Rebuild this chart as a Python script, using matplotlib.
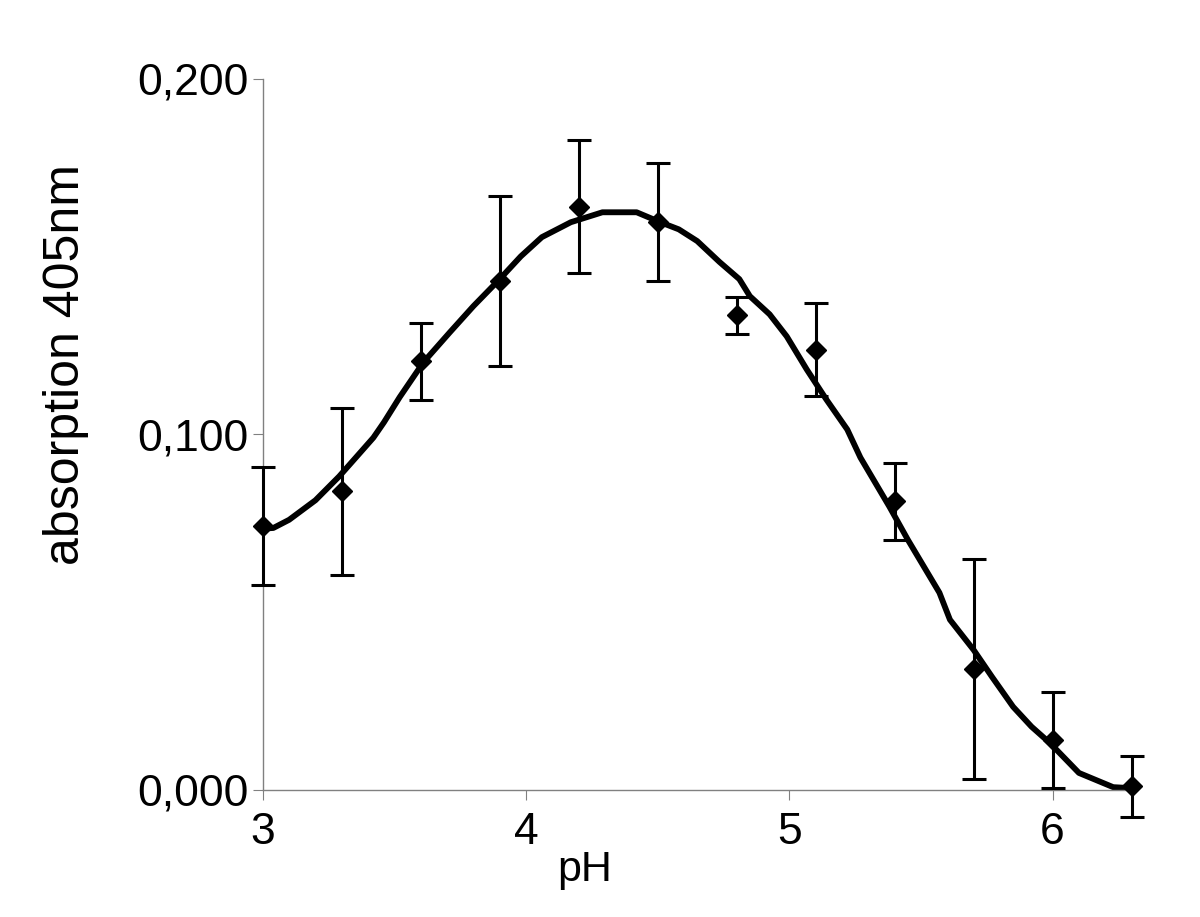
import matplotlib
matplotlib.use('Agg')
import matplotlib.pyplot as plt

# measured points (pH, absorption at 405 nm, error)
ph = [3.0, 3.3, 3.6, 3.9, 4.2, 4.5, 4.8, 5.1, 5.4, 5.7, 6.0, 6.3]
absorption = [0.0742, 0.0840, 0.1206, 0.1432, 0.1641, 0.1598, 0.1335, 0.1239,
              0.0812, 0.0340, 0.0141, 0.0010]
error = [0.0166, 0.0235, 0.0108, 0.0240, 0.0188, 0.0166, 0.0053, 0.0130,
         0.0109, 0.0310, 0.0136, 0.0085]

# fitted curve
curve_ph = [3.00, 3.04, 3.10, 3.20, 3.29, 3.37, 3.42, 3.46, 3.52, 3.61, 3.71,
            3.80, 3.90, 3.98, 4.06, 4.17, 4.29, 4.42, 4.51, 4.58, 4.65, 4.735,
            4.81, 4.85, 4.925, 4.99, 5.066, 5.14, 5.22, 5.27, 5.38, 5.45, 5.57,
            5.61, 5.70, 5.77, 5.85, 5.92, 5.99, 6.10, 6.23, 6.28]
curve_abs = [0.0735, 0.0737, 0.0760, 0.0815, 0.0882, 0.0949, 0.0991, 0.1034,
             0.1105, 0.1203, 0.1287, 0.1361, 0.1437, 0.1501, 0.1555, 0.1597,
             0.1625, 0.1625, 0.1597, 0.1577, 0.1544, 0.1485, 0.1437, 0.1389,
             0.1338, 0.1276, 0.1183, 0.1099, 0.1014, 0.0935, 0.0797, 0.0704,
             0.0555, 0.0479, 0.0394, 0.0318, 0.0234, 0.0178, 0.0132, 0.0048,
             0.0008, 0.0006]

x_ticks = [3, 4, 5, 6]
y_ticks = [0.0, 0.1, 0.2]
y_tick_labels = ['0,000', '0,100', '0,200']

plt.rcParams['font.family'] = ['Liberation Sans', 'DejaVu Sans']

fig = plt.figure(figsize=(12, 9.17), dpi=100)
ax = fig.add_axes([0.219, 0.1385, 0.724, 0.7754])

ax.plot(curve_ph, curve_abs, color='black', linewidth=4.2, zorder=2,
        solid_capstyle='round', solid_joinstyle='round')
ax.errorbar(ph, absorption, yerr=error, fmt='D', color='black', markersize=10,
            ecolor='black', elinewidth=2.2, capsize=8.5, capthick=2.2,
            zorder=3, clip_on=False)

ax.set_xlim(3, 6.3)
ax.set_ylim(0, 0.2)
ax.set_xticks(x_ticks)
ax.set_yticks(y_ticks)
ax.set_yticklabels(y_tick_labels)

for side in ['top', 'right']:
    ax.spines[side].set_visible(False)
for side in ['left', 'bottom']:
    ax.spines[side].set_color('#808080')
    ax.spines[side].set_linewidth(1)

ax.tick_params(axis='both', colors='#808080', labelcolor='black',
               labelsize=32, length=7, width=0.8)
ax.tick_params(axis='y', pad=3)
ax.tick_params(axis='x', pad=9)

ax.set_xlabel('pH', fontsize=31)
ax.set_ylabel('absorption 405nm', fontsize=36)
ax.xaxis.set_label_coords(0.37, -0.085)
ax.yaxis.set_label_coords(-0.2, 0.598)

fig.savefig('out.png', dpi=100)
